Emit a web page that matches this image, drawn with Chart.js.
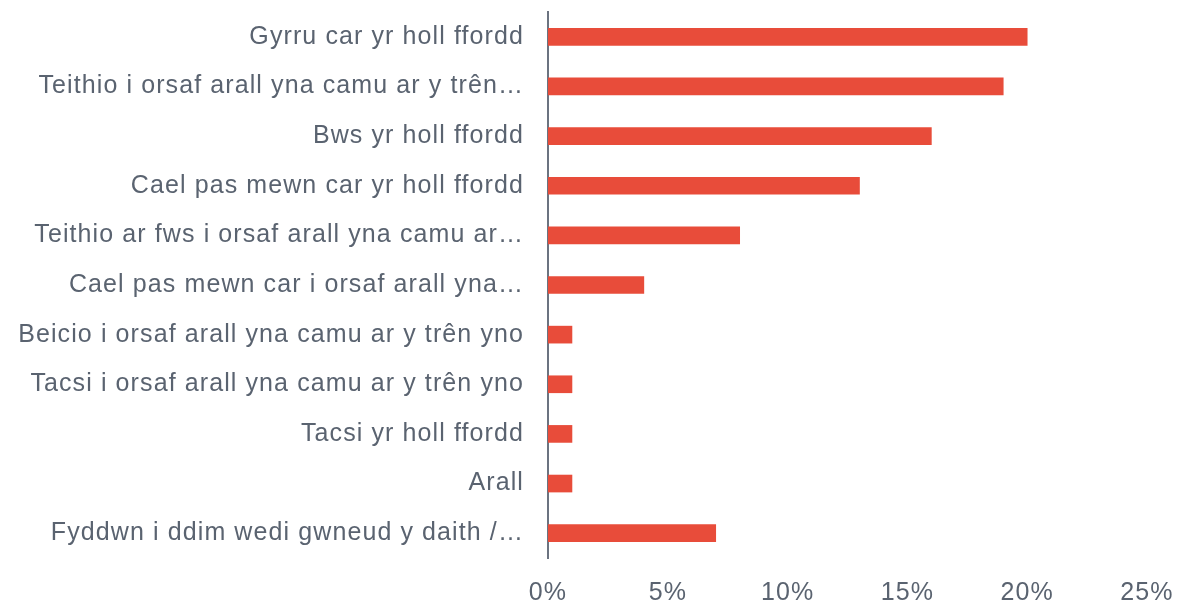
<!DOCTYPE html>
<html>
<head>
<meta charset="utf-8">
<script src="https://cdn.jsdelivr.net/npm/chart.js@4/dist/chart.umd.min.js"></script>
<style>
    html, body { margin: 0; padding: 0; background: #fff; }
    #wrap { width: 1184px; height: 603px; position: relative; }
</style>
</head>
<body>
<div id="wrap"><canvas id="barChart"></canvas></div>
<script>
// categories as shown (truncated labels kept as in the picture)
const categories = [
    'Gyrru car yr holl ffordd',
    'Teithio i orsaf arall yna camu ar y trên…',
    'Bws yr holl ffordd',
    'Cael pas mewn car yr holl ffordd',
    'Teithio ar fws i orsaf arall yna camu ar…',
    'Cael pas mewn car i orsaf arall yna…',
    'Beicio i orsaf arall yna camu ar y trên yno',
    'Tacsi i orsaf arall yna camu ar y trên yno',
    'Tacsi yr holl ffordd',
    'Arall',
    'Fyddwn i ddim wedi gwneud y daith /…'
];

// percentages
const shares = [20, 19, 16, 13, 8, 4, 1, 1, 1, 1, 7];

const xTicks = [0, 5, 10, 15, 20, 25];

const colors = {
    bar: '#E84C3A',
    text: '#5A6370',
    axis: '#6B7380'
};

const fontSpec = { family: '"Liberation Sans", Arial, sans-serif', size: 25 };

// the original text is set a bit looser than plain Arial
const spacingPlugin = {
    id: 'letterSpacing',
    beforeDraw(chart) {
        chart.ctx.letterSpacing = '1.1px';
    }
};

const ctx = document.getElementById('barChart').getContext('2d');
new Chart(ctx, {
    type: 'bar',
    data: {
        labels: categories,
        datasets: [{
            data: shares,
            backgroundColor: colors.bar,
            borderWidth: 0,
            barThickness: 17
        }]
    },
    options: {
        indexAxis: 'y',
        responsive: true,
        maintainAspectRatio: false,
        animation: false,
        layout: {
            padding: { top: 12, right: 37, bottom: 0, left: 0 }
        },
        scales: {
            x: {
                min: 0,
                max: 25,
                afterBuildTicks: scale => {
                    scale.ticks = xTicks.map(v => ({ value: v }));
                },
                afterFit: scale => {
                    scale.height = 45;
                    scale.paddingLeft = 0;
                    scale.paddingRight = 0;
                },
                grid: { display: false, drawTicks: false },
                border: { display: false },
                ticks: {
                    color: colors.text,
                    font: fontSpec,
                    padding: 20,
                    maxRotation: 0,
                    callback: v => v + '%'
                }
            },
            y: {
                grid: { display: false, drawTicks: false },
                border: { display: true, color: colors.axis, width: 2 },
                afterFit: scale => {
                    scale.width = 548;
                    scale.paddingTop = 0;
                    scale.paddingBottom = 0;
                },
                ticks: {
                    color: colors.text,
                    font: fontSpec,
                    padding: 24,
                    autoSkip: false
                }
            }
        },
        plugins: {
            legend: { display: false },
            tooltip: { enabled: false }
        }
    },
    plugins: [spacingPlugin]
});
</script>
</body>
</html>
